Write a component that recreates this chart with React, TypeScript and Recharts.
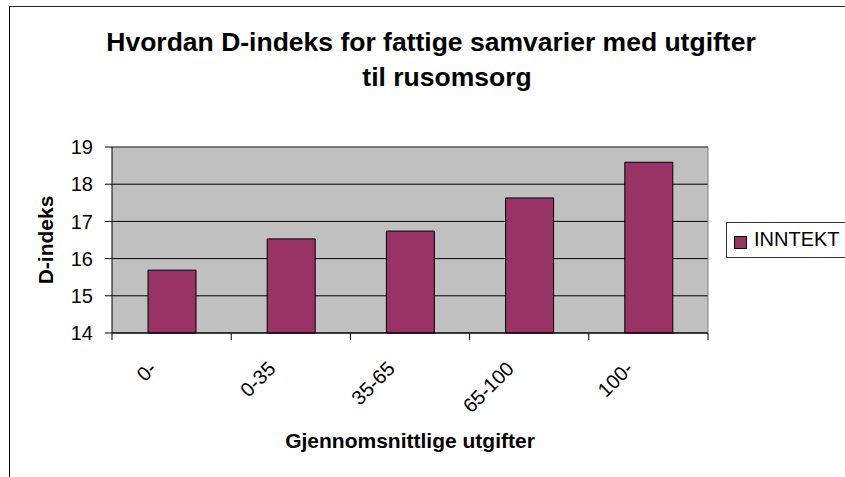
import {
  Bar,
  BarChart,
  CartesianGrid,
  ReferenceLine,
  XAxis,
  YAxis,
} from "recharts";

const CATEGORIES = ["0-", "0-35", "35-65", "65-100", "100-"];
const INNTEKT = [15.69, 16.53, 16.74, 17.63, 18.59];
const Y_TICKS = [14, 15, 16, 17, 18, 19];
const SERIES_NAME = "INNTEKT";
const TITLE_LINES = [
  "Hvordan D-indeks for fattige samvarier med utgifter",
  "til rusomsorg",
];
const Y_LABEL = "D-indeks";
const X_LABEL = "Gjennomsnittlige utgifter";

const data = CATEGORIES.map((name, i) => ({ name, value: INNTEKT[i] }));

const FONT = '"Liberation Sans", Arial, sans-serif';
const WIDTH = 845;
const HEIGHT = 477;
const MARGIN = { top: 147, right: 137, left: 0, bottom: 0 };
const Y_AXIS_WIDTH = 112;
const X_AXIS_HEIGHT = 144;
const PLOT_WIDTH = WIDTH - MARGIN.left - MARGIN.right - Y_AXIS_WIDTH;
const BAND = PLOT_WIDTH / CATEGORIES.length;
const BAR_FILL = "#993366";

function XTick(props: any) {
  const { x, y, payload, index } = props;
  const half = BAND / 2;
  const tx = x - 14;
  const ty = y + 37;
  return (
    <g>
      <line x1={x - half} x2={x - half} y1={y} y2={y + 7} stroke="#000" />
      {index === CATEGORIES.length - 1 ? (
        <line x1={x + half} x2={x + half} y1={y} y2={y + 7} stroke="#000" />
      ) : null}
      <text
        x={tx}
        y={ty}
        transform={`rotate(-45 ${tx} ${ty})`}
        textAnchor="end"
        fontSize={20}
        fontFamily={FONT}
        fill="#000"
      >
        {payload.value}
      </text>
    </g>
  );
}

export default function App() {
  return (
    <div
      style={{
        position: "absolute",
        left: 0,
        top: 0,
        width: WIDTH,
        height: HEIGHT,
        overflow: "hidden",
        background: "#fff",
        fontFamily: FONT,
      }}
    >
      {/* chart frame, cropped on the right and bottom */}
      <div
        style={{
          position: "absolute",
          left: 9,
          top: 6,
          width: 900,
          height: 500,
          borderLeft: "1px solid #000",
          borderTop: "1px solid #222",
        }}
      />
      <div
        style={{
          position: "absolute",
          left: 0,
          top: 25,
          width: 862,
          textAlign: "center",
          fontSize: 26.5,
          fontWeight: 700,
          lineHeight: "35px",
          color: "#000",
        }}
      >
        <div>{TITLE_LINES[0]}</div>
        <div style={{ paddingLeft: 32 }}>{TITLE_LINES[1]}</div>
      </div>
      <div style={{ position: "absolute", left: 0, top: 0 }}>
        <BarChart width={WIDTH} height={HEIGHT} data={data} margin={MARGIN}>
          <CartesianGrid
            vertical={false}
            stroke="#000"
            fill="#C0C0C0"
            fillOpacity={1}
          />
          <XAxis
            dataKey="name"
            height={X_AXIS_HEIGHT}
            tickLine={false}
            tickSize={0}
            tickMargin={0}
            axisLine={{ stroke: "#000" }}
            interval={0}
            tick={<XTick />}
            label={{
              content: ({ viewBox }: any) => (
                <text
                  x={viewBox.x + viewBox.width / 2}
                  y={viewBox.y + 115}
                  textAnchor="middle"
                  fontSize={21}
                  fontWeight={700}
                  fontFamily={FONT}
                  fill="#000"
                >
                  {X_LABEL}
                </text>
              ),
            }}
          />
          <YAxis
            width={Y_AXIS_WIDTH}
            domain={[14, 19]}
            ticks={Y_TICKS}
            interval={0}
            tickSize={7}
            tickMargin={12}
            tickLine={{ stroke: "#000" }}
            axisLine={{ stroke: "#000" }}
            tick={{ fill: "#000", fontSize: 20, fontFamily: FONT }}
            label={{
              content: ({ viewBox }: any) => {
                const lx = viewBox.x + 53;
                const ly = viewBox.y + viewBox.height / 2;
                return (
                  <text
                    x={lx}
                    y={ly}
                    transform={`rotate(-90 ${lx} ${ly})`}
                    textAnchor="middle"
                    fontSize={21}
                    fontWeight={700}
                    fontFamily={FONT}
                    fill="#000"
                  >
                    {Y_LABEL}
                  </text>
                );
              },
            }}
          />
          <ReferenceLine y={19} stroke="#808080" strokeWidth={1} />
          <ReferenceLine
            x={CATEGORIES[CATEGORIES.length - 1]}
            position="end"
            stroke="#808080"
            strokeWidth={1}
          />
          <Bar
            dataKey="value"
            name={SERIES_NAME}
            fill={BAR_FILL}
            stroke="#000"
            strokeWidth={1}
            barSize={48}
            isAnimationActive={false}
          />
        </BarChart>
      </div>
      {/* legend */}
      <div
        style={{
          position: "absolute",
          left: 726,
          top: 222,
          width: 140,
          height: 34,
          border: "1px solid #333",
          background: "#fff",
        }}
      >
        <span
          style={{
            position: "absolute",
            left: 7,
            top: 13,
            width: 11,
            height: 11,
            background: BAR_FILL,
            border: "1px solid #000",
          }}
        />
        <span
          style={{
            position: "absolute",
            left: 27,
            top: 5,
            fontSize: 20,
            lineHeight: "23px",
            color: "#000",
          }}
        >
          {SERIES_NAME}
        </span>
      </div>
    </div>
  );
}
